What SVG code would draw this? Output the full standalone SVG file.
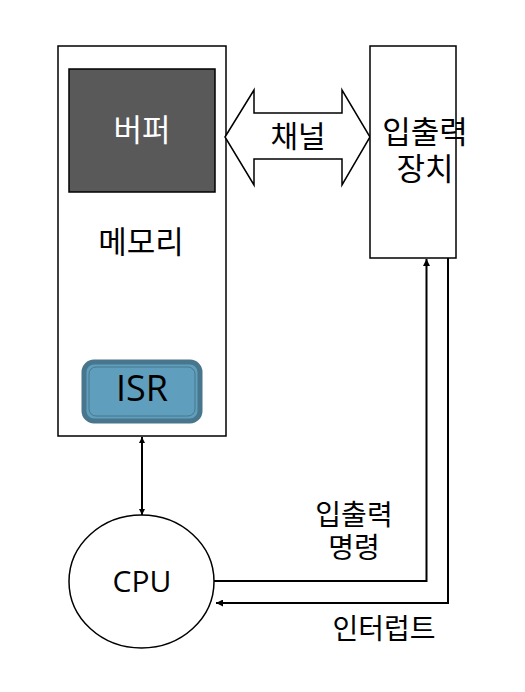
<svg xmlns="http://www.w3.org/2000/svg" width="525" height="692" viewBox="0 0 525 692">
<style>
text{font-family:"Open Sans","Noto Sans CJK KR",sans-serif;text-anchor:middle;dominant-baseline:central;fill:#000}
.box{fill:#fff;stroke:#000;stroke-width:1.5}
.ln{fill:none;stroke:#000;stroke-width:2}
</style>
<defs>
<marker id="ah" viewBox="0 0 10 10" refX="10" refY="5" markerWidth="6" markerHeight="6" markerUnits="userSpaceOnUse" orient="auto-start-reverse">
<path d="M0,0 L10,5 L0,10 z" fill="#000"/>
</marker>
<marker id="ah2" viewBox="0 0 10 10" refX="10" refY="5" markerWidth="7" markerHeight="7" orient="auto" markerUnits="userSpaceOnUse">
<path d="M0,0 L10,5 L0,10 z" fill="#000"/>
</marker>
</defs>
<g id="memory">
<rect class="box" x="58" y="46" width="168" height="390"/>
<text x="141" y="241" font-size="31">메모리</text>
</g>
<g id="buffer">
<rect x="69" y="69" width="146" height="123" fill="#595959" stroke="#000" stroke-width="1.5"/>
<text x="142" y="129" font-size="31" style="fill:#fff">버퍼</text>
</g>
<g id="isr">
<rect x="84" y="362" width="116" height="59" rx="10" fill="#5f9ebd" stroke="#48778d" stroke-width="5"/>
<rect x="89" y="367" width="106" height="49" rx="7" fill="none" stroke="#48778d" stroke-width="1"/>
<text x="142" y="387" font-size="36">ISR</text>
</g>
<g id="channel">
<path d="M225,137 L254,90 L254,113 L342,113 L342,90 L370,137 L342,185 L342,159 L254,159 L254,185 Z" fill="#fff" stroke="#000" stroke-width="1.5"/>
<text x="298" y="135" font-size="30">채널</text>
</g>
<g id="io">
<rect class="box" x="370" y="46" width="86" height="212"/>
<text x="425" y="131" font-size="31">입출력</text>
<text x="425" y="168" font-size="31">장치</text>
</g>
<g id="cpu">
<ellipse cx="141.5" cy="581.5" rx="72.5" ry="66.5" fill="#fff" stroke="#000" stroke-width="1.5"/>
<text x="142" y="580" font-size="30">CPU</text>
</g>
<g id="connectors">
<line class="ln" x1="142" y1="437" x2="142" y2="515" stroke-width="1.5" marker-start="url(#ah)" marker-end="url(#ah)"/>
<polyline class="ln" points="214,581 426.5,581 426.5,259" marker-end="url(#ah2)"/>
<polyline class="ln" points="448,258 448,603 216,603" marker-end="url(#ah2)"/>
</g>
<g id="labels">
<text x="354" y="514" font-size="28">입출력</text>
<text x="354" y="547" font-size="28">명령</text>
<text x="384" y="628" font-size="28">인터럽트</text>
</g>
</svg>
